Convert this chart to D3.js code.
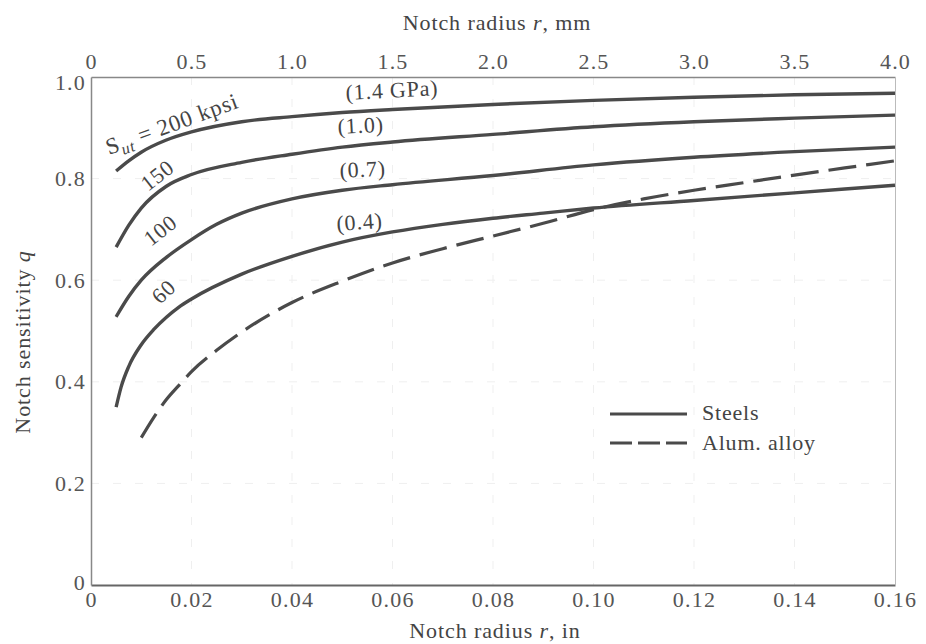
<!DOCTYPE html>
<html>
<head>
<meta charset="utf-8">
<script src="https://cdn.jsdelivr.net/npm/d3@7"></script>
<style>
  html, body { margin: 0; padding: 0; background: #fff; }
  svg text { font-family: "Liberation Serif", "DejaVu Serif", serif; fill: #444; }
</style>
</head>
<body>
<svg id="chart" width="926" height="644"></svg>
<script>
// ---- data ----
const xTicksIn = [0, 0.02, 0.04, 0.06, 0.08, 0.10, 0.12, 0.14, 0.16];
const xTickLabelsIn = ["0", "0.02", "0.04", "0.06", "0.08", "0.10", "0.12", "0.14", "0.16"];
const xTicksMm = [0, 0.5, 1.0, 1.5, 2.0, 2.5, 3.0, 3.5, 4.0];
const xTickLabelsMm = ["0", "0.5", "1.0", "1.5", "2.0", "2.5", "3.0", "3.5", "4.0"];
const yTicks = [0, 0.2, 0.4, 0.6, 0.8, 1.0];
const yTickLabels = ["0", "0.2", "0.4", "0.6", "0.8", "1.0"];

const steel200 = [[0.005,0.815],[0.0075,0.835],[0.01,0.852],[0.015,0.876],[0.02,0.892],[0.03,0.912],[0.04,0.922],[0.05,0.930],[0.06,0.936],[0.08,0.946],[0.10,0.954],[0.12,0.960],[0.14,0.965],[0.16,0.968]];
const steel150 = [[0.005,0.665],[0.0075,0.708],[0.01,0.742],[0.015,0.785],[0.02,0.808],[0.03,0.832],[0.04,0.848],[0.05,0.862],[0.06,0.872],[0.08,0.887],[0.10,0.902],[0.12,0.912],[0.14,0.919],[0.16,0.925]];
const steel100 = [[0.005,0.528],[0.0075,0.568],[0.01,0.600],[0.015,0.645],[0.02,0.680],[0.025,0.710],[0.03,0.732],[0.04,0.760],[0.05,0.777],[0.06,0.788],[0.08,0.806],[0.10,0.827],[0.12,0.842],[0.14,0.853],[0.16,0.862]];
const steel60  = [[0.005,0.350],[0.006,0.390],[0.0075,0.430],[0.01,0.473],[0.0125,0.503],[0.015,0.527],[0.0175,0.547],[0.02,0.563],[0.03,0.612],[0.04,0.647],[0.05,0.675],[0.06,0.695],[0.07,0.710],[0.08,0.722],[0.09,0.732],[0.10,0.742],[0.12,0.757],[0.14,0.772],[0.16,0.787]];
const alum     = [[0.01,0.290],[0.0125,0.330],[0.015,0.365],[0.0175,0.393],[0.02,0.420],[0.025,0.462],[0.03,0.498],[0.04,0.556],[0.05,0.598],[0.06,0.634],[0.07,0.662],[0.08,0.687],[0.09,0.712],[0.10,0.739],[0.11,0.760],[0.12,0.777],[0.13,0.792],[0.14,0.807],[0.15,0.821],[0.16,0.835]];

const seriesNames = ["Steels", "Alum. alloy"];

// ---- layout ----
const svg = d3.select("#chart");
const mL = 91, mR = 895, mT = 77, mB = 585;
const x = d3.scaleLinear().domain([0, 0.16]).range([mL, mR]);
const xMm = d3.scaleLinear().domain([0, 4.0]).range([mL, mR]);
const y = d3.scaleLinear().domain([0, 1.0]).range([mB, mT]);

const ink = "#4a4a4a";

// faint grid
const grid = svg.append("g");
grid.selectAll("line.gx").data(xTicksIn.slice(1, -1)).enter().append("line")
  .attr("x1", d => x(d)).attr("x2", d => x(d)).attr("y1", mT).attr("y2", mB)
  .attr("stroke", "#efefef").attr("stroke-width", 1).attr("stroke-dasharray", "8,14");
grid.selectAll("line.gy").data(yTicks.slice(1, -1)).enter().append("line")
  .attr("x1", mL).attr("x2", mR).attr("y1", d => y(d)).attr("y2", d => y(d))
  .attr("stroke", "#efefef").attr("stroke-width", 1).attr("stroke-dasharray", "8,14");

// axes using d3 axis generators (tick marks hidden)
const fs = "22px";
const axB = svg.append("g").attr("transform", `translate(0,${mB})`)
  .call(d3.axisBottom(x).tickValues(xTicksIn).tickFormat((d, i) => xTickLabelsIn[i]).tickSize(0).tickPadding(6));
const axT = svg.append("g").attr("transform", `translate(0,${mT})`)
  .call(d3.axisTop(xMm).tickValues(xTicksMm).tickFormat((d, i) => xTickLabelsMm[i]).tickSize(0).tickPadding(8));
const axL = svg.append("g").attr("transform", `translate(${mL},0)`)
  .call(d3.axisLeft(y).tickValues(yTicks).tickFormat((d, i) => yTickLabels[i]).tickSize(0).tickPadding(5));
const axR = svg.append("g").attr("transform", `translate(${mR},0)`)
  .call(d3.axisRight(y).tickValues([]).tickSize(0));

[axB, axT, axL, axR].forEach(a => {
  a.attr("font-family", null);
  a.selectAll("text").style("font-family", "'Liberation Serif', serif").style("font-size", fs)
    .style("fill", "#555").style("letter-spacing", "1.2px");
});
axB.select(".domain").attr("stroke", "#666").attr("stroke-width", 1.8);
axT.select(".domain").attr("stroke", "#888").attr("stroke-width", 1.3);
axL.select(".domain").attr("stroke", "#888").attr("stroke-width", 1.5);
axR.select(".domain").attr("stroke", "#bbb").attr("stroke-width", 1);
axB.selectAll(".tick text").attr("dy", "0.72em");
axL.selectAll(".tick text").filter(d => d === 1.0).attr("dy", "0.55em");
axL.selectAll(".tick text").filter(d => d === 0).attr("dy", "0.2em");

// axis titles
svg.append("text").attr("x", 497).attr("y", 30).attr("text-anchor", "middle")
  .style("font-size", "22px").style("letter-spacing", "0.9px")
  .html('Notch radius <tspan font-style="italic">r</tspan>, mm');
svg.append("text").attr("x", 495).attr("y", 638).attr("text-anchor", "middle")
  .style("font-size", "22px").style("letter-spacing", "0.9px")
  .html('Notch radius <tspan font-style="italic">r</tspan>, in');
svg.append("text").attr("transform", "translate(30,342) rotate(-90)").attr("text-anchor", "middle")
  .style("font-size", "22px").style("letter-spacing", "0.9px")
  .html('Notch sensitivity <tspan font-style="italic">q</tspan>');

// curves
const line = d3.line().x(d => x(d[0])).y(d => y(d[1])).curve(d3.curveMonotoneX);
[steel200, steel150, steel100, steel60].forEach(s => {
  svg.append("path").datum(s).attr("d", line)
    .attr("fill", "none").attr("stroke", ink).attr("stroke-width", 3.4).attr("stroke-linecap", "butt");
});
svg.append("path").datum(alum).attr("d", line)
  .attr("fill", "none").attr("stroke", ink).attr("stroke-width", 3.2)
  .attr("stroke-dasharray", "28,10");

// curve labels
function lab(px, py, ang, html, size) {
  svg.append("text").attr("transform", `translate(${px},${py}) rotate(${ang})`)
    .style("font-size", size || "22px").style("letter-spacing", "0.8px").style("fill", "#444").html(html);
}
lab(109, 155, -20, 'S<tspan font-style="italic" font-size="16px" dy="5">ut</tspan><tspan dy="-5"> = 200 kpsi</tspan>', "23px");
lab(148, 192, -38, '150');
lab(151, 247, -38, '100');
lab(160, 305, -43, '60');
lab(346, 100, -3, '(1.4 GPa)');
lab(338, 134, -3, '(1.0)');
lab(340, 178, -3, '(0.7)');
lab(337, 231, -4, '(0.4)');

// legend
const lg = svg.append("g");
lg.append("line").attr("x1", 610).attr("x2", 687).attr("y1", 414).attr("y2", 414)
  .attr("stroke", ink).attr("stroke-width", 3.2);
lg.append("line").attr("x1", 610).attr("x2", 687).attr("y1", 443).attr("y2", 443)
  .attr("stroke", ink).attr("stroke-width", 3.2).attr("stroke-dasharray", "22,6");
lg.selectAll("text").data(seriesNames).enter().append("text")
  .attr("x", 702).attr("y", (d, i) => 420 + i * 30)
  .style("font-size", "22px").style("letter-spacing", "0.8px").text(d => d);
</script>
</body>
</html>
